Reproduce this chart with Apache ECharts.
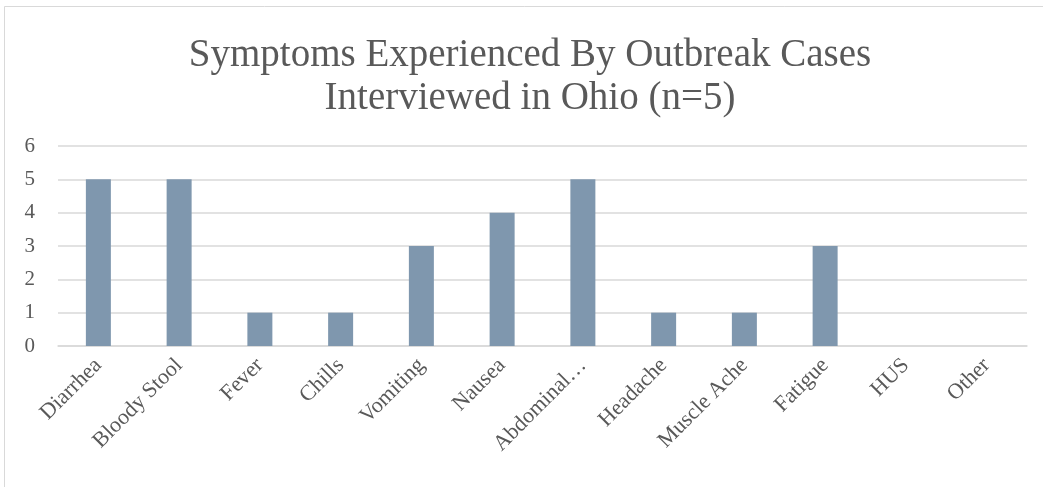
<!DOCTYPE html>
<html>
<head>
<meta charset="utf-8">
<script src="https://cdn.jsdelivr.net/npm/echarts@6/dist/echarts.min.js"></script>
<style>
  html, body { margin: 0; padding: 0; background: #fff; }
  #chart { width: 1043px; height: 487px; }
</style>
</head>
<body>
<div id="chart"></div>
<script>
// Symptom categories and number of interviewed cases reporting each
const symptoms = ['Diarrhea', 'Bloody Stool', 'Fever', 'Chills', 'Vomiting', 'Nausea',
  'Abdominal…', 'Headache', 'Muscle Ache', 'Fatigue', 'HUS', 'Other'];
const caseCounts = [5, 5, 1, 1, 3, 4, 5, 1, 1, 3, 0, 0];
const titleLines = ['Symptoms Experienced By Outbreak Cases', 'Interviewed in Ohio (n=5)'];

const serif = '"Liberation Serif", "DejaVu Serif", serif';
const chart = echarts.init(document.getElementById('chart'));
chart.setOption({
  animation: false,
  backgroundColor: '#fff',
  graphic: [{
    type: 'rect',
    shape: { x: 4.5, y: 6.5, width: 1200, height: 600 },
    style: { fill: 'none', stroke: '#d9d9d9', lineWidth: 1 },
    silent: true
  }],
  title: {
    text: titleLines.join('\n'),
    left: 525,
    top: 29,
    textAlign: 'center',
    textStyle: { fontFamily: serif, fontSize: 39, fontWeight: 'normal', color: '#595959', lineHeight: 43 }
  },
  grid: { left: 58, right: 16, top: 146, bottom: 141, containLabel: false },
  xAxis: {
    type: 'category',
    data: symptoms,
    axisLine: { lineStyle: { color: '#d9d9d9', width: 1.5 } },
    axisTick: { show: false },
    axisLabel: { rotate: 45, interval: 0, fontFamily: serif, fontSize: 22, color: '#595959', margin: 16 }
  },
  yAxis: {
    type: 'value',
    min: 0, max: 6, interval: 1,
    axisLine: { show: false },
    axisTick: { show: false },
    splitLine: { lineStyle: { color: '#d9d9d9', width: 1.5 } },
    axisLabel: { fontFamily: serif, fontSize: 21, color: '#595959', margin: 23 }
  },
  series: [{
    type: 'bar',
    data: caseCounts,
    barWidth: 25,
    itemStyle: { color: '#7f97ae' }
  }]
});
</script>
</body>
</html>
